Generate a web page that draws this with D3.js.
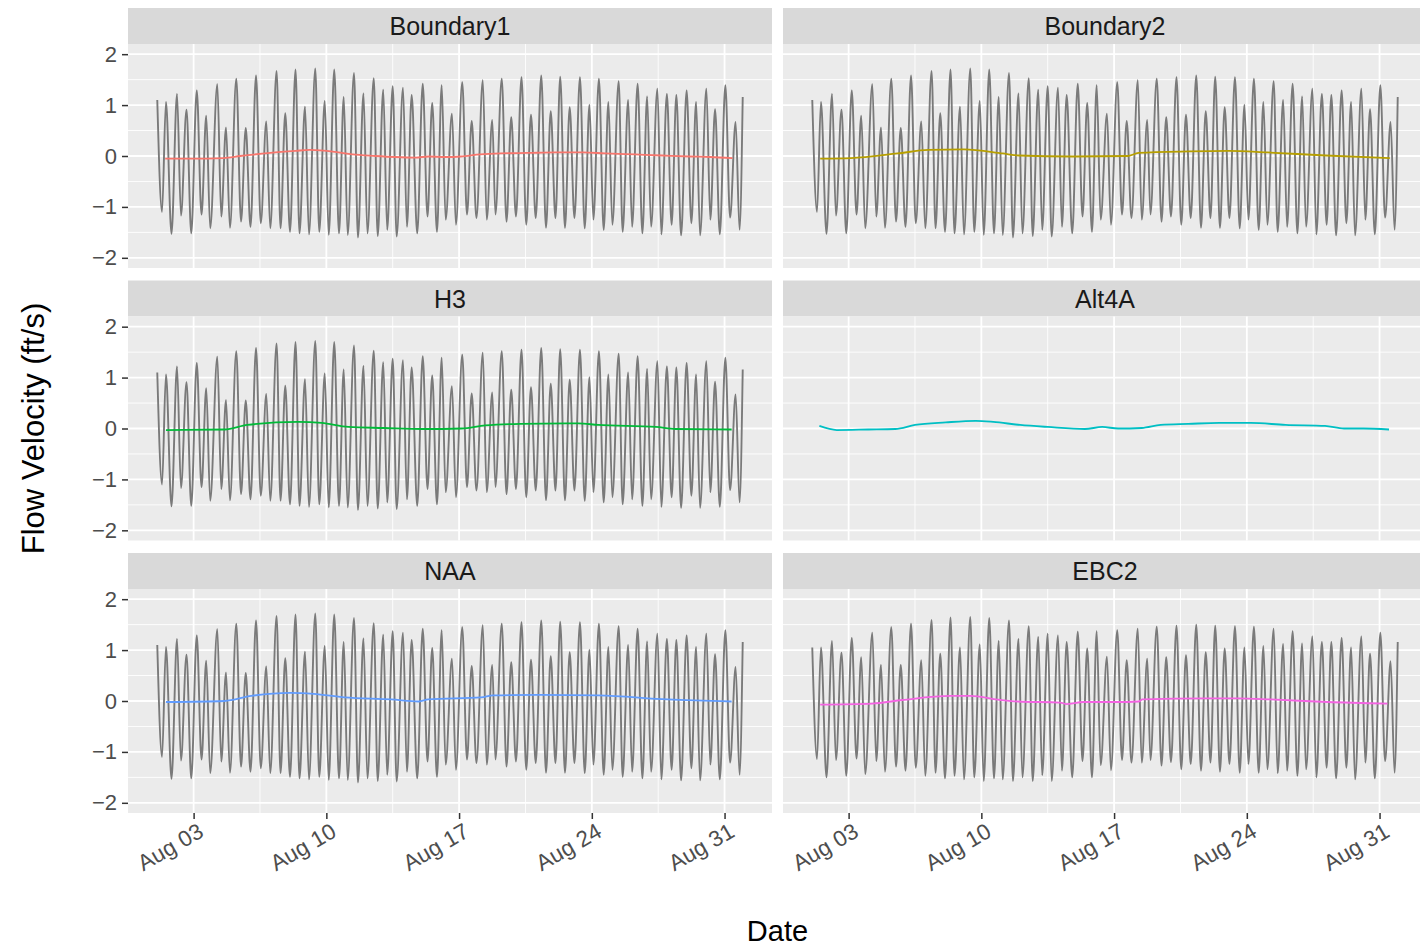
<!DOCTYPE html>
<html><head><meta charset="utf-8">
<script src="https://cdn.jsdelivr.net/npm/d3@7"></script>
<style>
body{margin:0;background:#fff;}
svg{display:block;font-family:"Liberation Sans",Arial,sans-serif;}
</style>
</head><body>
<svg id="chart" width="1420" height="949"></svg>
<script>
// ---------------- data ----------------
const scenarios = ["Boundary1","Boundary2","H3","Alt4A","NAA","EBC2"];
const scenarioColors = ["#F8766D","#B79F00","#00BA38","#00BFC4","#619CFF","#F564E3"];
const xTickDates = ["2017-08-03","2017-08-10","2017-08-17","2017-08-24","2017-08-31"];
const xTickLabels = ["Aug 03","Aug 10","Aug 17","Aug 24","Aug 31"];
const yTicks = [-2,-1,0,1,2];
const yLimits = [-2,2];

// hours after 2017-08-01 00:00 of each tidal high / low
const tideHours = [
  2, 8, 13, 20, 27, 32, 39, 45, 52, 58,
  64, 69, 78, 83, 89, 94, 102, 108, 114, 120,
  127, 133, 140, 145, 153, 158, 164, 170, 177, 182,
  189, 194, 202, 207, 214, 219, 226, 232, 238, 243,
  251, 256, 263, 268, 276, 281, 288, 293, 300, 305,
  313, 318, 324, 331, 338, 344, 350, 356, 362, 367,
  375, 380, 388, 394, 400, 406, 414, 419, 426, 430,
  438, 444, 450, 456, 463, 469, 475, 481, 488, 494,
  500, 506, 512, 518, 524, 530, 537, 543, 549, 554,
  561, 567, 573, 578, 586, 591, 598, 603, 610, 616,
  622, 627, 635, 640, 647, 653, 659, 665, 672, 678,
  684, 689, 697, 702, 708, 714, 721, 727, 734, 739, 743
];
// flow velocity (ft/s) at those times: Boundary1 / Boundary2 / H3 / NAA
const velBoundary = [
  1.10, -1.10, 1.06, -1.53, 1.22, -1.17, 0.91, -1.52, 1.29, -1.15,
  0.79, -1.42, 1.41, -1.19, 0.56, -1.41, 1.52, -1.29, 0.55, -1.39,
  1.58, -1.32, 0.68, -1.42, 1.67, -1.42, 0.84, -1.49, 1.70, -1.52,
  0.97, -1.54, 1.72, -1.49, 1.08, -1.55, 1.70, -1.52, 1.16, -1.55,
  1.63, -1.60, 1.23, -1.52, 1.53, -1.57, 1.30, -1.45, 1.37, -1.58,
  1.34, -1.39, 1.20, -1.52, 1.42, -1.19, 1.04, -1.49, 1.39, -1.25,
  0.83, -1.35, 1.45, -1.15, 0.69, -1.22, 1.49, -1.25, 0.71, -1.15,
  1.52, -1.29, 0.76, -1.19, 1.55, -1.35, 0.81, -1.22, 1.58, -1.41,
  0.88, -1.22, 1.56, -1.41, 0.96, -1.22, 1.55, -1.42, 1.01, -1.25,
  1.52, -1.45, 1.06, -1.35, 1.47, -1.49, 1.10, -1.39, 1.42, -1.52,
  1.17, -1.39, 1.32, -1.54, 1.22, -1.35, 1.20, -1.56, 1.29, -1.32,
  1.06, -1.56, 1.32, -1.25, 0.92, -1.54, 1.39, -1.21, 0.67, -1.45, 1.16
];
// flow velocity (ft/s): EBC2
const velEBC2 = [
  1.05, -1.14, 1.05, -1.50, 1.18, -1.16, 0.95, -1.47, 1.24, -1.13,
  0.86, -1.44, 1.34, -1.18, 0.71, -1.39, 1.45, -1.29, 0.71, -1.37,
  1.52, -1.31, 0.80, -1.47, 1.59, -1.41, 0.93, -1.52, 1.64, -1.47,
  1.05, -1.54, 1.65, -1.50, 1.11, -1.57, 1.63, -1.52, 1.18, -1.54,
  1.58, -1.57, 1.22, -1.50, 1.47, -1.57, 1.26, -1.46, 1.32, -1.57,
  1.29, -1.37, 1.16, -1.50, 1.36, -1.18, 1.03, -1.50, 1.37, -1.26,
  0.87, -1.36, 1.39, -1.16, 0.80, -1.21, 1.42, -1.21, 0.83, -1.16,
  1.46, -1.27, 0.86, -1.20, 1.48, -1.34, 0.90, -1.24, 1.50, -1.37,
  0.96, -1.21, 1.48, -1.39, 1.03, -1.24, 1.47, -1.41, 1.05, -1.24,
  1.46, -1.41, 1.08, -1.34, 1.42, -1.42, 1.12, -1.37, 1.37, -1.47,
  1.13, -1.34, 1.27, -1.50, 1.16, -1.31, 1.16, -1.52, 1.24, -1.31,
  1.05, -1.54, 1.27, -1.21, 0.93, -1.52, 1.34, -1.18, 0.78, -1.41, 1.16
];

// tidally filtered velocity (ft/s), hours after 2017-08-01 00:00
const filtB1Hours = [12, 44, 86, 107, 145, 177, 195, 227, 249, 278, 303, 329, 345, 367, 386, 411, 436, 471, 506, 541, 569, 607, 641, 677, 702, 730];
const filtB1 = [-0.05, -0.05, -0.04, 0.00, 0.06, 0.10, 0.12, 0.08, 0.03, 0.00, -0.02, -0.03, -0.01, -0.02, -0.01, 0.03, 0.05, 0.06, 0.07, 0.07, 0.05, 0.03, 0.01, -0.01, -0.02, -0.04];
const filtB2Hours = [12, 51, 110, 149, 194, 243, 263, 332, 401, 415, 479, 529, 578, 652, 733];
const filtB2 = [-0.05, -0.04, 0.05, 0.12, 0.13, 0.05, 0.01, -0.01, 0.00, 0.06, 0.09, 0.10, 0.07, 0.01, -0.04];
const filtH3Hours = [13, 87, 116, 180, 210, 244, 289, 338, 387, 417, 461, 535, 560, 633, 658, 729];
const filtH3 = [-0.03, -0.02, 0.07, 0.13, 0.11, 0.03, 0.01, -0.01, 0.00, 0.06, 0.09, 0.10, 0.07, 0.03, -0.01, -0.02];
const filtAltHours = [11, 33, 73, 107, 132, 171, 209, 231, 265, 300, 347, 369, 389, 419, 443, 478, 517, 557, 601, 651, 675, 700, 732];
const filtAlt = [0.05, -0.03, -0.02, -0.01, 0.07, 0.12, 0.15, 0.13, 0.07, 0.03, -0.01, 0.03, 0.00, 0.01, 0.07, 0.09, 0.11, 0.11, 0.07, 0.05, 0.00, 0.00, -0.02];
const filtNAAHours = [13, 87, 121, 170, 200, 239, 298, 333, 345, 412, 427, 486, 560, 648, 729];
const filtNAA = [-0.02, 0.00, 0.10, 0.16, 0.14, 0.07, 0.03, -0.01, 0.03, 0.07, 0.11, 0.12, 0.11, 0.03, -0.01];
const filtEBCHours = [12, 78, 116, 177, 202, 240, 262, 316, 323, 345, 386, 415, 420, 500, 541, 582, 654, 730];
const filtEBC = [-0.07, -0.05, 0.02, 0.10, 0.10, 0.02, -0.01, -0.03, -0.06, -0.02, -0.02, -0.01, 0.03, 0.05, 0.05, 0.03, -0.02, -0.05];

// ---------------- build ----------------
const base = new Date(2017, 7, 1, 0, 0, 0);
const toDate = h => d3.timeHour.offset(base, h);
const parse = d3.timeParse("%Y-%m-%d");

const rawSeries = [velBoundary, velBoundary, velBoundary, null, velBoundary, velEBC2];
const filtSeries = [
  [filtB1Hours, filtB1], [filtB2Hours, filtB2], [filtH3Hours, filtH3],
  [filtAltHours, filtAlt], [filtNAAHours, filtNAA], [filtEBCHours, filtEBC]
];

const svg = d3.select("#chart");
const panelW = 644, panelH = 224, stripH = 36;
const left0 = 128, colStep = 655;
const top0 = 44, rowStep = 272.5;
const fontFam = "'Liberation Sans',Arial,sans-serif";

const t0 = toDate(tideHours[0]), t1 = toDate(tideHours[tideHours.length - 1]);
const span = t1 - t0;
const x = d3.scaleTime()
  .domain([new Date(+t0 - 0.05 * span), new Date(+t1 + 0.05 * span)])
  .range([0, panelW]);
const yPad = 0.05 * (yLimits[1] - yLimits[0]);
const y = d3.scaleLinear().domain([yLimits[0] - yPad, yLimits[1] + yPad]).range([panelH, 0]);

const majorX = xTickDates.map(parse);
const minorX = [];
for (let i = -1; i < majorX.length; i++) {
  const a = i < 0 ? d3.timeDay.offset(majorX[0], -7) : majorX[i];
  const b = d3.timeDay.offset(a, 7);
  const m = new Date((+a + +b) / 2);
  if (m >= x.domain()[0] && m <= x.domain()[1]) minorX.push(m);
}
const minorY = d3.pairs(yTicks).map(([a, b]) => (a + b) / 2);

const line = d3.line().x(d => x(d.t)).y(d => y(d.v)).curve(d3.curveMonotoneX);

scenarios.forEach((name, i) => {
  const col = i % 2, row = Math.floor(i / 2);
  const px = left0 + col * colStep, py = top0 + row * rowStep;

  // strip
  svg.append("rect").attr("x", px).attr("y", py - stripH).attr("width", panelW).attr("height", stripH)
    .attr("fill", "#D9D9D9");
  svg.append("text").attr("x", px + panelW / 2).attr("y", py - stripH / 2)
    .attr("dy", "0.36em").attr("text-anchor", "middle")
    .attr("font-size", 25).attr("fill", "#1A1A1A").text(name);

  const g = svg.append("g").attr("transform", `translate(${px},${py})`);
  g.append("rect").attr("width", panelW).attr("height", panelH).attr("fill", "#EBEBEB");

  // grid
  g.selectAll(".minx").data(minorX).join("line")
    .attr("x1", d => x(d)).attr("x2", d => x(d)).attr("y1", 0).attr("y2", panelH)
    .attr("stroke", "#fff").attr("stroke-width", 0.9);
  g.selectAll(".miny").data(minorY).join("line")
    .attr("y1", d => y(d)).attr("y2", d => y(d)).attr("x1", 0).attr("x2", panelW)
    .attr("stroke", "#fff").attr("stroke-width", 0.9);
  g.selectAll(".majx").data(majorX).join("line")
    .attr("x1", d => x(d)).attr("x2", d => x(d)).attr("y1", 0).attr("y2", panelH)
    .attr("stroke", "#fff").attr("stroke-width", 1.8);
  g.selectAll(".majy").data(yTicks).join("line")
    .attr("y1", d => y(d)).attr("y2", d => y(d)).attr("x1", 0).attr("x2", panelW)
    .attr("stroke", "#fff").attr("stroke-width", 1.8);

  // raw tidal velocity
  const raw = rawSeries[i];
  if (raw) {
    const pts = tideHours.map((h, k) => ({ t: toDate(h), v: raw[k] }));
    g.append("path").datum(pts).attr("d", line)
      .attr("fill", "none").attr("stroke", "#7A7A7A").attr("stroke-width", 1.9)
      .attr("stroke-linejoin", "round");
  }
  // filtered velocity
  const [fh, fv] = filtSeries[i];
  const fpts = fh.map((h, k) => ({ t: toDate(h), v: fv[k] }));
  g.append("path").datum(fpts).attr("d", line)
    .attr("fill", "none").attr("stroke", scenarioColors[i]).attr("stroke-width", 1.8);

  // y axis (left column)
  if (col === 0) {
    const ya = d3.axisLeft(y).tickValues(yTicks).tickSize(6).tickPadding(5).tickFormat(d3.format("d"));
    const ag = g.append("g").call(ya);
    ag.select(".domain").remove();
    ag.selectAll("line").attr("stroke", "#333333").attr("stroke-width", 1.5);
    ag.selectAll("text").attr("font-size", 22).attr("fill", "#4D4D4D").attr("font-family", fontFam);
  }
  // x axis (bottom row)
  if (row === 2) {
    const xa = d3.axisBottom(x).tickValues(majorX).tickSize(6).tickFormat((d, k) => xTickLabels[k]);
    const ag = g.append("g").attr("transform", `translate(0,${panelH})`).call(xa);
    ag.select(".domain").remove();
    ag.selectAll("line").attr("stroke", "#333333").attr("stroke-width", 1.5);
    ag.selectAll("text").attr("font-size", 22.5).attr("fill", "#4D4D4D").attr("font-family", fontFam)
      .attr("text-anchor", "end").attr("y", 0).attr("dy", "0.71em")
      .attr("transform", "translate(3,9) rotate(-30)");
  }
});

// axis titles
svg.append("text").attr("x", left0 + (colStep + panelW) / 2).attr("y", 931)
  .attr("dy", "0.36em")
  .attr("text-anchor", "middle").attr("font-size", 29).attr("fill", "#000").text("Date");
svg.append("text").attr("transform", `translate(44,${top0 + rowStep + panelH / 2}) rotate(-90)`)
  .attr("text-anchor", "middle").attr("font-size", 31).attr("fill", "#000").text("Flow Velocity (ft/s)");
</script>
</body></html>
